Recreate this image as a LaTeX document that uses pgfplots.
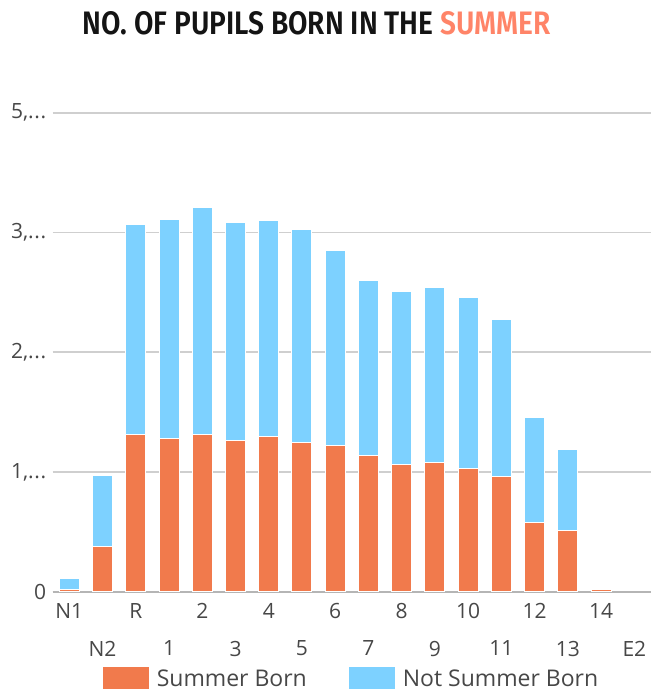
\documentclass[border=0pt]{standalone}
\usepackage{fontspec}
\setmainfont{Open Sans}
\newfontfamily\titlefont{Fira Sans SemiBold}
\usepackage{graphicx}
\usepackage{pgfplots}
\usepackage{pgfplotstable}
\pgfplotsset{compat=1.18}
\definecolor{summer}{HTML}{F17A4C}
\definecolor{notsummer}{HTML}{7DD1FF}
\definecolor{titleaccent}{HTML}{FF8468}
\definecolor{labelgray}{HTML}{474747}
\definecolor{gridgray}{HTML}{CFCFCF}
\definecolor{basegray}{HTML}{B5B5B5}
\definecolor{titleblack}{HTML}{141414}
\newcommand\tdots{.\kern0.6bp.\kern0.6bp.}

\pgfplotstableread{
x summer notsummer
0 28 111
1 469 739
2 1643 2186
3 1601 2289
4 1643 2363
5 1576 2274
6 1622 2249
7 1555 2229
8 1531 2027
9 1417 1829
10 1330 1801
11 1351 1826
12 1284 1782
13 1198 1642
14 722 1098
15 635 851
16 28 0
17 0 0
}\datatable

\pgfplotsset{mylegend/.style={legend image code/.code={\fill[##1] (0bp,-11.5bp) rectangle (47bp,11.5bp);}}}

\begin{document}
\begin{tikzpicture}
\path[use as bounding box] (-52.7bp,-100.3bp) rectangle (598.3bp,591.7bp);
\begin{axis}[
  at={(0,0)}, anchor=south west,
  scale only axis, width=598.3bp, height=479bp,
  ybar stacked, bar width=20bp,
  xmin=-0.5, xmax=17.5, ymin=0, ymax=5000,
  xtick={0,2,4,6,8,10,12,14,16}, xticklabels={N1,R,2,4,6,8,10,12,14},
  extra x ticks={1,3,5,7,9,11,13,15,17}, extra x tick labels={N2,1,3,5,7,9,11,13,E2},
  extra x tick style={tick label style={yshift=-37.8bp}},
  xticklabel style={yshift=-7.8bp},
  yticklabel style={xshift=-3bp},
  ytick={0,1250,2500,3750,5000},
  yticklabels={0,{1,\tdots},{2,\tdots},{3,\tdots},{5,\tdots}},
  ymajorgrids, grid style={gridgray, line width=1.8bp},
  major tick length=0pt,
  axis x line*=bottom, axis y line*=left,
  y axis line style={draw=none},
  x axis line style={basegray, line width=1.8bp},
  tick label style={font=\fontsize{21bp}{25bp}\selectfont, text=labelgray},
  legend style={draw=none, at={(axis description cs:0.4986,-0.1812)}, anchor=center,
    legend columns=2, font=\fontsize{23bp}{27bp}\selectfont, text=labelgray,
    /tikz/every odd column/.append style={column sep=5bp},
    /tikz/every even column/.append style={column sep=39bp}},
  every axis plot/.append style={draw=white, line width=1bp},
]
\addplot[fill=summer, draw=white, mylegend] table[x=x, y=summer] {\datatable};
\addlegendentry{Summer Born}
\addplot[fill=notsummer, draw=white, mylegend] table[x=x, y=notsummer] {\datatable};
\addlegendentry{Not Summer Born}
\end{axis}
\node[anchor=base, text=titleblack] at (264.3bp,556.7bp) {\resizebox{468bp}{23bp}{\titlefont NO. OF PUPILS BORN IN THE \textcolor{titleaccent}{SUMMER}}};
\end{tikzpicture}
\end{document}
